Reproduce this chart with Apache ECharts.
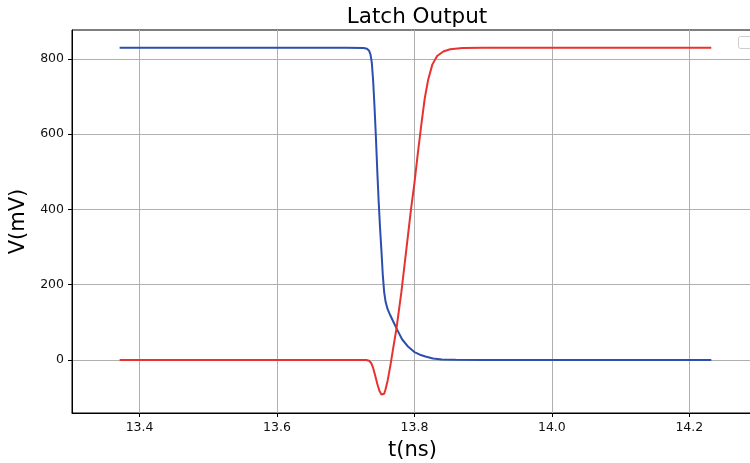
<!DOCTYPE html>
<html>
<head>
<meta charset="utf-8">
<script src="https://cdn.jsdelivr.net/npm/echarts@6/dist/echarts.min.js"></script>
<style>html,body{margin:0;padding:0;background:#fff;}#c{width:750px;height:463px;}</style>
</head>
<body>
<div id="c"></div>
<script>
// ---- data ----
const blueT = [13.371,13.700,13.726,13.731,13.734,13.736,13.738,13.740,13.742,13.744,13.746,13.748,13.750,13.752,13.754,13.756,13.758,13.761,13.765,13.769,13.775,13.782,13.791,13.800,13.808,13.816,13.827,13.840,13.860,13.900,14.232];
const blueV = [830,830,829,827,822,812,790,740,670,590,500,420,350,290,225,180,155,135,118,103,80,55,35,21,14,9,4,1.5,0.3,0,0];
const redT = [13.371,13.730,13.734,13.737,13.740,13.743,13.746,13.749,13.752,13.754,13.756,13.758,13.761,13.765,13.769,13.774,13.781,13.788,13.795,13.800,13.805,13.810,13.815,13.820,13.826,13.833,13.842,13.852,13.870,13.900,14.232];
const redV = [0,0,-2,-8,-22,-42,-64,-82,-92,-94,-90,-78,-55,-15,30,85,180,290,400,470,550,625,695,745,785,808,820,826,829,830,830];
const xTicks = [13.4,13.6,13.8,14.0,14.2];
const yTicks = [0,200,400,600,800];
const titleText = 'Latch Output';
const xName = 't(ns)';
const yName = 'V(mV)';

const zip = (t, v) => t.map((x, i) => [x, v[i]]);
const font = 'DejaVu Sans';
const chart = echarts.init(document.getElementById('c'), null, {renderer: 'canvas'});
chart.setOption({
  animation: false,
  backgroundColor: '#fff',
  title: {text: titleText, left: 412, top: 1, textAlign: 'center',
    textStyle: {fontFamily: font, fontSize: 21.5, fontWeight: 'normal', color: '#000'}},
  grid: {left: 72, top: 30, right: -3, bottom: 50, show: true, borderColor: '#000', borderWidth: 1,
    containLabel: false, outerBoundsMode: 'none'},
  xAxis: {
    type: 'value', min: 13.3017, max: 14.2927,
    name: xName, nameLocation: 'middle', nameGap: 27,
    nameTextStyle: {fontFamily: font, fontSize: 21, color: '#000'},
    axisLine: {show: true, onZero: false, lineStyle: {color: '#000', width: 1}},
    axisTick: {show: true, inside: false, length: 4, customValues: xTicks, lineStyle: {color: '#000'}},
    axisLabel: {customValues: xTicks, fontFamily: font, fontSize: 12.5, color: '#111', margin: 8,
      formatter: v => v.toFixed(1)},
    splitLine: {show: true, lineStyle: {color: '#b0b0b0', width: 1}}
  },
  yAxis: {
    type: 'value', min: -141, max: 877,
    name: yName, nameLocation: 'middle', nameGap: 39, nameRotate: 90,
    nameTextStyle: {fontFamily: font, fontSize: 21, color: '#000'},
    axisLine: {show: true, onZero: false, lineStyle: {color: '#000', width: 1}},
    axisTick: {show: true, inside: false, length: 4, customValues: yTicks, lineStyle: {color: '#000'}},
    axisLabel: {customValues: yTicks, fontFamily: font, fontSize: 12.5, color: '#111', margin: 8},
    splitLine: {show: true, lineStyle: {color: '#b0b0b0', width: 1}}
  },
  series: [
    {type: 'line', data: zip(blueT, blueV), showSymbol: false, smooth: false,
      lineStyle: {color: '#2b4fae', width: 2}, z: 2},
    {type: 'line', data: zip(redT, redV), showSymbol: false, smooth: false,
      lineStyle: {color: '#e8322f', width: 2}, z: 3}
  ],
  graphic: [{type: 'rect', shape: {x: 738.5, y: 36.5, width: 14, height: 12, r: 2},
    style: {fill: '#fff', stroke: '#cccccc', lineWidth: 1}, z: 100}]
});
</script>
</body>
</html>
